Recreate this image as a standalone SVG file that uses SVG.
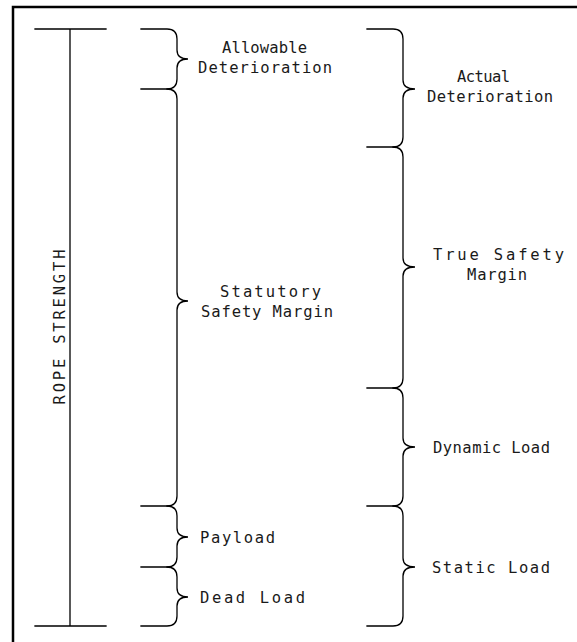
<svg xmlns="http://www.w3.org/2000/svg" width="577" height="642" viewBox="0 0 577 642">
<style>
.ln{fill:none;stroke:#000;stroke-width:1.3;stroke-linecap:square}
.fr{fill:none;stroke:#000;stroke-width:2.5}
text{font-family:"DejaVu Sans Mono","Liberation Mono",monospace;font-size:15.5px;fill:#1a1a1a}
.c{text-anchor:middle}
</style>
<rect width="577" height="642" fill="#fff"/>
<g id="frame"><path class="fr" d="M13,642 V7 H577"/></g>
<g id="rope-strength">
<path class="ln" d="M35,29 H106 M70,29 V626 M35,626 H106"/>
<text transform="translate(65,327) rotate(-90)" class="c" textLength="155" lengthAdjust="spacing">ROPE STRENGTH</text>
</g>
<g id="connectors">
<path class="ln" d="M141,29 H167 Q177,29 177,39 V50 Q177,59 188,59 Q177,59 177,68 V79 Q177,89 167,89 H141"/>
<path class="ln" d="M167,89 Q177,89 177,99 V292 Q177,301 188,301 Q177,301 177,310 V496 Q177,506 167,506 H141"/>
<path class="ln" d="M167,506 Q177,506 177,516 V528 Q177,537 188,537 Q177,537 177,546 V557 Q177,567 167,567 H141"/>
<path class="ln" d="M167,567 Q177,567 177,577 V588 Q177,597 188,597 Q177,597 177,606 V616 Q177,626 167,626 H141"/>
<path class="ln" d="M367,29 H393 Q403,29 403,39 V80 Q403,89 415,89 Q403,89 403,98 V137 Q403,147 393,147 H367"/>
<path class="ln" d="M393,147 Q403,147 403,157 V258 Q403,267 415,267 Q403,267 403,276 V378 Q403,388 393,388 H367"/>
<path class="ln" d="M393,388 Q403,388 403,398 V438 Q403,447 415,447 Q403,447 403,456 V496 Q403,506 393,506 H367"/>
<path class="ln" d="M393,506 Q403,506 403,516 V558 Q403,567 415,567 Q403,567 403,576 V616 Q403,626 393,626 H367"/>
</g>
<g id="allowable-deterioration">
<text x="222" y="53" textLength="85" lengthAdjust="spacing">Allowable</text>
<text x="198" y="73" textLength="134" lengthAdjust="spacing">Deterioration</text>
</g>
<g id="statutory-safety-margin">
<text x="220" y="297" textLength="101" lengthAdjust="spacing">Statutory</text>
<text x="201" y="317" textLength="132" lengthAdjust="spacing">Safety Margin</text>
</g>
<g id="payload"><text x="200" y="543" textLength="75" lengthAdjust="spacing">Payload</text></g>
<g id="dead-load"><text x="200" y="603" textLength="105" lengthAdjust="spacing">Dead Load</text></g>
<g id="actual-deterioration">
<text x="457" y="82" textLength="53" lengthAdjust="spacing">Actual</text>
<text x="427" y="102" textLength="126" lengthAdjust="spacing">Deterioration</text>
</g>
<g id="true-safety-margin">
<text x="433" y="260" textLength="131" lengthAdjust="spacing">True Safety</text>
<text x="467" y="280" textLength="60" lengthAdjust="spacing">Margin</text>
</g>
<g id="dynamic-load"><text x="433" y="453" textLength="117" lengthAdjust="spacing">Dynamic Load</text></g>
<g id="static-load"><text x="432" y="573" textLength="118" lengthAdjust="spacing">Static Load</text></g>
</svg>
